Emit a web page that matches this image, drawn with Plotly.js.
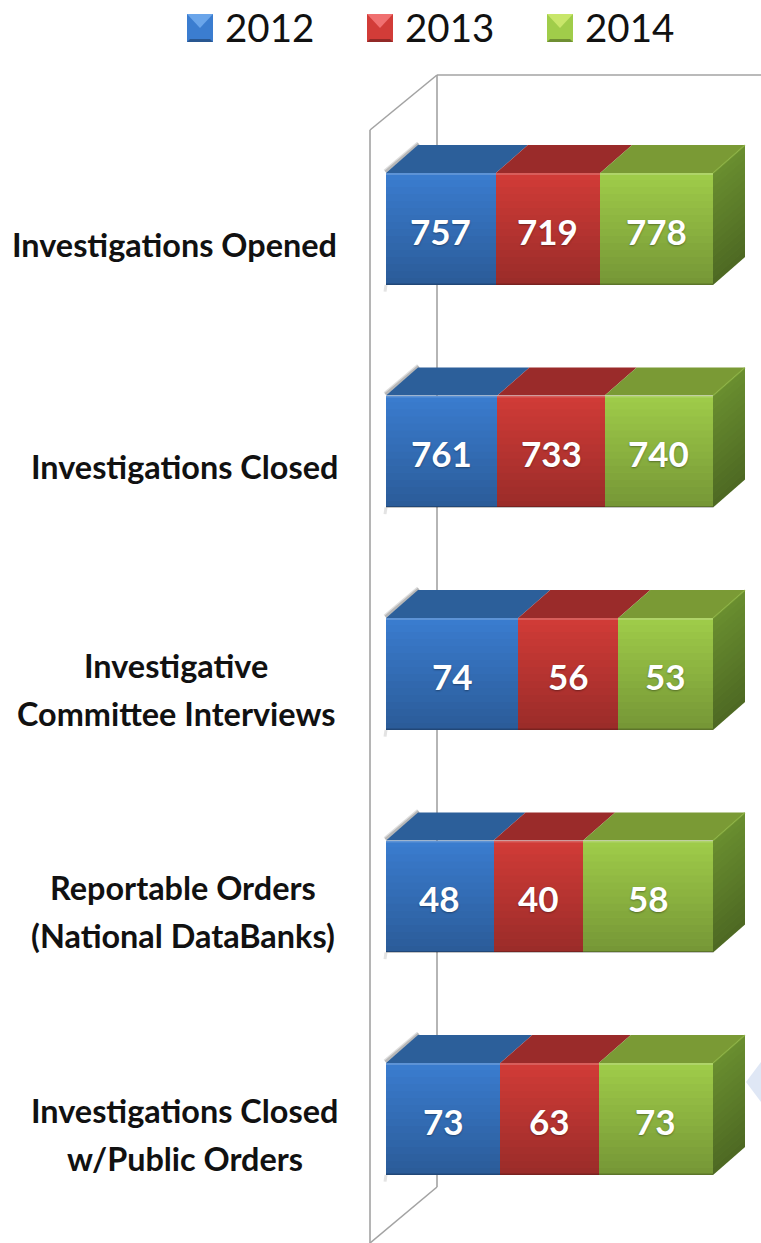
<!DOCTYPE html>
<html>
<head>
<meta charset="utf-8">
<script src="https://cdn.plot.ly/plotly-3.0.1.min.js"></script>
<style>html,body{margin:0;padding:0;background:#fff}</style>
</head>
<body>
<div id="chart" style="width:761px;height:1243px"></div>
<script>
const categories = [
  ["Investigations Opened"],
  ["Investigations Closed"],
  ["Investigative", "Committee Interviews"],
  ["Reportable Orders", "(National DataBanks)"],
  ["Investigations Closed", "w/Public Orders"]
];
const years = ["2012", "2013", "2014"];
const values2012 = [757, 761, 74, 48, 73];
const values2013 = [719, 733, 56, 40, 63];
const values2014 = [778, 740, 53, 58, 73];
const labelCentres = [174.5, 184.5, 176, 183, 184.5];

const W = 761, H = 1243;
const series = [values2012, values2013, values2014];
const frontColours = ["#3b7dd0", "#d23c38", "#a0cd4a"];
const topColours = ["#2c5f9a", "#9a2b2a", "#7a9a35"];
const sideColour = "#6a8f30";

// scale set-up: 0% sits at px 386, 100% at px 713; rows are 222.5 px apart, first at px 229
const pxPerPct = 3.27, pxPerRow = 222.5;
const xRange = [-386 / pxPerPct, (W - 386) / pxPerPct];
const yRange = [(H - 229) / pxPerRow, -229 / pxPerRow];
const barWidth = 0.503;
const depthX = 32 / pxPerPct, depthY = 28 / pxPerRow;
const px = v => v / W, py = v => 1 - v / H;

const rows = categories.map((_, i) => i);
const traces = years.map((y, s) => ({
  type: "bar", orientation: "h", name: y, y: rows, x: series[s],
  width: barWidth, marker: {color: frontColours[s], line: {width: 0}},
  showlegend: false, hoverinfo: "x+name"
}));

const shapes = [];
const annotations = [];

function poly(pts, fill, layer, ref) {
  const d = pts.map((p, i) => (i ? "L" : "M") + p[0] + "," + p[1]).join(" ") + " Z";
  shapes.push({type: "path", path: d, fillcolor: fill, line: {width: 0}, layer: layer,
               xref: ref || "x", yref: ref || "y"});
}
function seg(a, b, colour, width, layer, ref) {
  shapes.push({type: "line", x0: a[0], y0: a[1], x1: b[0], y1: b[1],
               line: {color: colour, width: width}, layer: layer,
               xref: ref || "x", yref: ref || "y"});
}

// pale arrow tip at the right edge
poly([[px(746), py(1082)], [px(761), py(1062)], [px(761), py(1102)]], "#dfe7f5", "below", "paper");

// chart walls
const wall = "#a3a3a3";
[[[437, 75], [761, 75]], [[437, 75], [437, 1187]], [[370, 130], [437, 75]],
 [[370, 130], [370, 1243]], [[437, 1187], [370, 1243]]].forEach(l =>
  seg([px(l[0][0]), py(l[0][1])], [px(l[1][0]), py(l[1][1])], wall, 1.6, "below", "paper"));

const STRIPS = 16;
rows.forEach(i => {
  const total = series[0][i] + series[1][i] + series[2][i];
  const top = i - barWidth / 2, bot = i + barWidth / 2;
  const h = (bot - top) / STRIPS;
  let cum = 0;

  // soft shadow along the left edge of the block
  seg([-0.2, top - 0.006], [depthX + 0.2, top - depthY - 0.006], "rgba(70,70,70,0.18)", 5, "below");
  seg([-0.2, top - 0.006], [depthX + 0.2, top - depthY - 0.006], "rgba(70,70,70,0.25)", 2.5, "below");
  seg([0, bot], [-0.3, bot + 0.03], "rgba(70,70,70,0.15)", 3, "below");

  series.forEach((vals, s) => {
    const a = cum / total * 100, b = (cum + vals[i]) / total * 100;
    cum += vals[i];
    poly([[a, top], [b, top], [b + depthX, top - depthY], [a + depthX, top - depthY]], topColours[s], "below");
    annotations.push({
      x: (a + b) / 2, y: i, xref: "x", yref: "y", text: String(vals[i]), showarrow: false,
      yshift: -1.5, font: {family: "Lato, Carlito, sans-serif", size: 35, color: "#fff", weight: 700,
      shadow: "0px 1px 2px rgba(0,0,0,0.35)"}
    });
  });

  // side face
  poly([[100, top], [100 + depthX, top - depthY], [100 + depthX, bot - depthY], [100, bot]], sideColour, "above");

  // vertical shading over the front and side
  for (let k = 0; k < STRIPS; k++) {
    const y0 = top + k * h, y1 = y0 + h;
    const shade = "rgba(0,0,0," + (0.27 * (k + 0.5) / STRIPS).toFixed(3) + ")";
    poly([[0, y0], [100, y0], [100, y1], [0, y1]], shade, "above");
    poly([[100, y0], [100 + depthX, y0 - depthY], [100 + depthX, y1 - depthY], [100, y1]], shade, "above");
  }
  // highlights and edges
  seg([0, top + 0.004], [100, top + 0.004], "rgba(255,255,255,0.18)", 2, "above");
  seg([0, bot - 0.003], [100, bot - 0.003], "rgba(0,0,0,0.22)", 1.5, "above");
  seg([100, top], [100 + depthX, top - depthY], "rgba(140,180,60,0.6)", 1.6, "above");

  // category label
  const lines = categories[i];
  lines.forEach((t, n) => {
    annotations.push({
      x: px(labelCentres[i]), xref: "paper", y: i, yref: "y", text: t, showarrow: false,
      xanchor: "center", yanchor: "middle",
      yshift: -(15 + (n - (lines.length - 1) / 2) * 48),
      font: {family: "Lato, Carlito, sans-serif", size: 32.4, color: "#111", weight: 700}
    });
  });
});

// legend
const legendX = [187, 367, 547];
const swatchLight = ["#6aa5ea", "#f07070", "#c8e66a"];
years.forEach((y, s) => {
  const x0 = legendX[s], x1 = x0 + 26, y0 = 14, y1 = 42;
  poly([[px(x0), py(y0)], [px(x1), py(y0)], [px(x1), py(y1)], [px(x0), py(y1)]], frontColours[s], "above", "paper");
  poly([[px(x0), py(y0)], [px(x1), py(y0)], [px((x0 + x1) / 2), py((y0 + y1) / 2)]], swatchLight[s], "above", "paper");
  poly([[px(x0), py(y1)], [px(x1), py(y1)], [px(x1 - 3), py(y1 - 3)], [px(x0 + 3), py(y1 - 3)]], "rgba(0,0,0,0.3)", "above", "paper");
  annotations.push({
    x: px(x0 + 36), y: py(27), xref: "paper", yref: "paper", text: y, showarrow: false,
    xanchor: "left", yanchor: "middle",
    font: {family: "Lato, Carlito, sans-serif", size: 38.5, color: "#111"}
  });
});

Plotly.newPlot("chart", traces, {
  width: W, height: H, margin: {l: 0, r: 0, t: 0, b: 0},
  paper_bgcolor: "#fff", plot_bgcolor: "rgba(0,0,0,0)",
  barmode: "stack", barnorm: "percent", showlegend: false,
  xaxis: {range: xRange, visible: false, fixedrange: true},
  yaxis: {range: yRange, visible: false, fixedrange: true},
  shapes: shapes, annotations: annotations
}, {displayModeBar: false});
</script>
</body>
</html>
